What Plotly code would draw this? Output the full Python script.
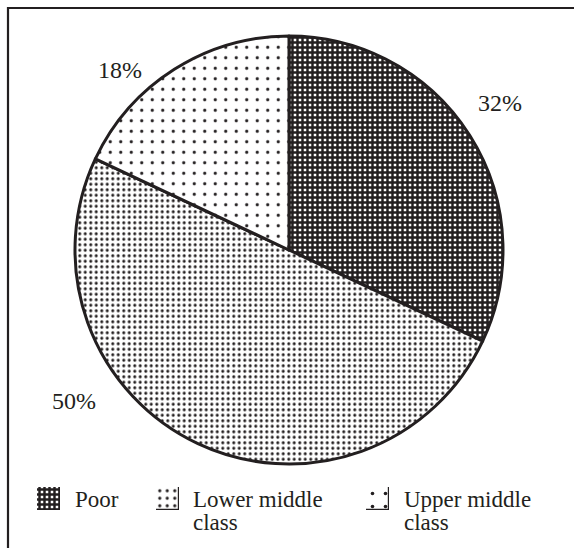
import plotly.graph_objects as go

# ---- data ----
categories = ["Poor", "Lower middle class", "Upper middle class"]
shares = [32, 50, 18]
pct_labels = ["32%", "50%", "18%"]
legend_line1 = ["Poor", "Lower middle", "Upper middle"]
legend_line2 = ["", "class", "class"]

INK = "#231f20"
W, H = 574, 548
FONT = "Liberation Serif, Times New Roman, serif"

def px_x(x):
    return x / W

def px_y(y):
    return 1 - y / H

patterns = [
    dict(shape="+", size=5, solidity=0.74),
    dict(shape=".", size=5.5, solidity=0.24),
    dict(shape=".", size=10.5, solidity=0.07),
]
swatch_patterns = [
    dict(shape="+", fgcolor=INK, bgcolor="white", size=5, solidity=0.74, fillmode="replace", fgopacity=1),
    dict(shape=".", fgcolor=INK, bgcolor="white", size=7.5, solidity=0.14, fillmode="replace", fgopacity=1),
    dict(shape=".", fgcolor=INK, bgcolor="white", size=13, solidity=0.06, fillmode="replace", fgopacity=1),
]

fig = go.Figure()

# pie centre (289,250), radius 214 px
cx, cy, r = 289, 250, 214
fig.add_trace(go.Pie(
    labels=categories,
    values=shares,
    sort=False,
    direction="clockwise",
    rotation=0,
    textinfo="none",
    hoverinfo="label+percent",
    showlegend=False,
    marker=dict(
        colors=["white"] * 3,
        pattern=dict(
            shape=[p["shape"] for p in patterns],
            fgcolor=INK,
            bgcolor="white",
            size=[p["size"] for p in patterns],
            solidity=[p["solidity"] for p in patterns],
            fillmode="replace",
            fgopacity=1,
        ),
        line=dict(color=INK, width=3),
    ),
    domain=dict(x=[px_x(cx - r), px_x(cx + r)], y=[px_y(cy + r), px_y(cy - r)]),
))

# percentage labels
pct_pos = [(500, 103), (74, 401), (120, 70)]
for lab, (x, y) in zip(pct_labels, pct_pos):
    fig.add_annotation(x=px_x(x), y=px_y(y), xref="paper", yref="paper", text=lab,
                       showarrow=False, xanchor="center", yanchor="middle",
                       font=dict(family=FONT, size=24, color=INK))

# legend swatches as tiny patterned bars on their own axes
sw_x = [37, 156, 366]
sw_top, sw_bot = 487, 510
text_x = [73, 191, 402]
layout_axes = {}
for i, cat in enumerate(categories):
    n = i + 2
    fig.add_trace(go.Bar(
        x=[0], y=[1], width=[1], name=cat, showlegend=False, hoverinfo="name",
        xaxis=f"x{n}", yaxis=f"y{n}",
        marker=dict(color="white", pattern=swatch_patterns[i], line=dict(color=INK, width=1.2)),
    ))
    layout_axes[f"xaxis{n}"] = dict(domain=[px_x(sw_x[i]), px_x(sw_x[i] + 23)], range=[-0.5, 0.5],
                                     visible=False, fixedrange=True, anchor=f"y{n}")
    layout_axes[f"yaxis{n}"] = dict(domain=[px_y(sw_bot), px_y(sw_top)], range=[0, 1],
                                     visible=False, fixedrange=True, anchor=f"x{n}")
    fig.add_annotation(x=px_x(text_x[i]), y=px_y(499), xref="paper", yref="paper",
                       text=legend_line1[i], showarrow=False, xanchor="left", yanchor="middle",
                       font=dict(family=FONT, size=23, color=INK))
    if legend_line2[i]:
        fig.add_annotation(x=px_x(text_x[i]), y=px_y(522), xref="paper", yref="paper",
                           text=legend_line2[i], showarrow=False, xanchor="left", yanchor="middle",
                           font=dict(family=FONT, size=23, color=INK))

# outer frame (top and left edges visible)
fig.add_shape(type="rect", xref="paper", yref="paper",
              x0=px_x(8), x1=px_x(W + 20), y0=px_y(H + 20), y1=px_y(8),
              line=dict(color=INK, width=2.2), fillcolor="rgba(0,0,0,0)", layer="below")

fig.update_layout(
    width=W, height=H,
    margin=dict(l=0, r=0, t=0, b=0),
    paper_bgcolor="white", plot_bgcolor="white",
    bargap=0,
    **layout_axes,
)
fig.update_xaxes(showgrid=False, zeroline=False)
fig.update_yaxes(showgrid=False, zeroline=False)

fig.write_html("out.html")
